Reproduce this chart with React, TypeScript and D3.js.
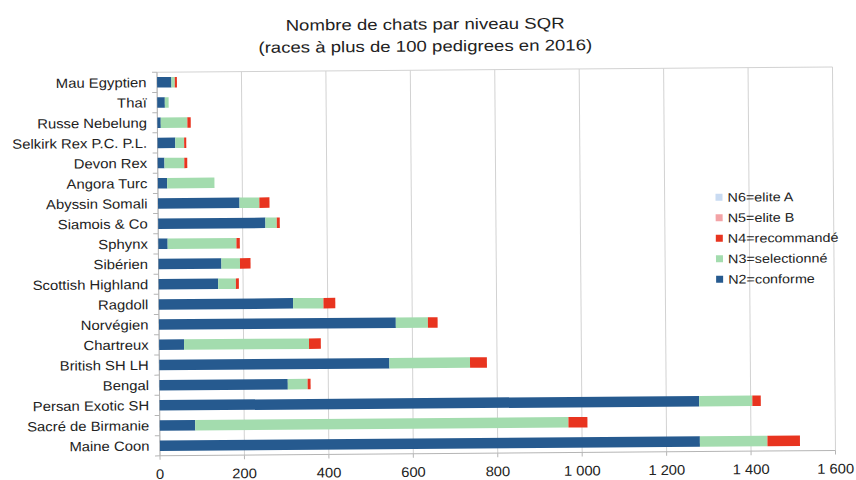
import React from "react";
import * as d3 from "d3";

const categories = [
  "Mau Egyptien", "Thaï", "Russe Nebelung", "Selkirk Rex P.C. P.L.", "Devon Rex",
  "Angora Turc", "Abyssin Somali", "Siamois & Co", "Sphynx", "Sibérien",
  "Scottish Highland", "Ragdoll", "Norvégien", "Chartreux", "British SH LH",
  "Bengal", "Persan Exotic SH", "Sacré de Birmanie", "Maine Coon",
];
const n2 = [34, 18, 8, 42, 16, 22, 193, 254, 22, 149, 141, 318, 561, 59, 545, 304, 1278, 84, 1279];
const n3 = [8, 9, 63, 21, 47, 112, 47, 27, 163, 44, 42, 72, 76, 296, 191, 47, 126, 884, 160];
const n4 = [5, 0, 8, 5, 7, 0, 24, 7, 8, 25, 7, 28, 23, 28, 40, 7, 20, 45, 77];
const n5 = [0, 0, 0, 0, 0, 0, 0, 0, 0, 0, 0, 0, 0, 0, 0, 0, 0, 0, 0];
const n6 = [0, 0, 0, 0, 0, 0, 0, 0, 0, 0, 0, 0, 0, 0, 0, 0, 0, 0, 0];
const seriesKeys = ["N2", "N3", "N4", "N5", "N6"];
const seriesNames = ["N2=conforme", "N3=selectionné", "N4=recommandé", "N5=elite B", "N6=elite A"];
const seriesColors = ["#265a8f", "#a3dcae", "#e8341f", "#f3a3a6", "#c9dbf2"];
const xTicks = [0, 200, 400, 600, 800, 1000, 1200, 1400, 1600];
const titleLines = ["Nombre de chats par niveau SQR", "(races à plus de 100 pedigrees en 2016)"];

const W = 856, H = 480;
const left = 158.5, right = 834, top = 69.6, bottom = 453.2;
const FONT = "'Liberation Sans', Arial, sans-serif";

export default function App() {
  const rows = categories.map((c, i) => ({ cat: c, N2: n2[i], N3: n3[i], N4: n4[i], N5: n5[i], N6: n6[i] }));
  const stack = d3.stack<any>().keys(seriesKeys)(rows);
  const x = d3.scaleLinear().domain([0, 1600]).range([left, right]);
  const y = d3.scaleBand<string>().domain(categories).range([top, bottom]).paddingInner(0.48).paddingOuter(0.24);
  const fmt = d3.formatLocale({ decimal: ",", thousands: " ", grouping: [3], currency: ["", "€"] }).format(",");
  const step = y.step();
  const bounds = d3.range(categories.length + 1).map((i) => top + i * ((bottom - top) / categories.length));
  const legendOrder = [4, 3, 2, 1, 0];

  return (
    <svg width={W} height={H} style={{ position: "absolute", left: 0, top: 0, background: "#fff" }} fontFamily={FONT}>
      <rect x={0} y={0} width={W} height={H} fill="#fff" />
      <g transform="rotate(-0.45 496 262)">
        {titleLines.map((t, i) => (
          <text key={i} transform={`translate(427,${29 + i * 22}) scale(1.2,1)`} textAnchor="middle" fontSize={15.5} fill="#222">{t}</text>
        ))}
        {xTicks.map((t) => (
          <line key={"g" + t} x1={x(t)} x2={x(t)} y1={top} y2={bottom} stroke="#d2d2d2" strokeWidth={1} />
        ))}
        <line x1={left} x2={right} y1={top} y2={top} stroke="#d2d2d2" />
        <line x1={left} x2={left} y1={top} y2={bottom} stroke="#b5b5b5" />
        <line x1={left} x2={right} y1={bottom} y2={bottom} stroke="#b5b5b5" />
        {bounds.map((b, i) => (
          <line key={"yt" + i} x1={left - 5} x2={left} y1={b} y2={b} stroke="#b5b5b5" />
        ))}
        {xTicks.map((t) => (
          <line key={"xt" + t} x1={x(t)} x2={x(t)} y1={bottom} y2={bottom + 4} stroke="#b5b5b5" />
        ))}
        {stack.map((s, si) => (
          <g key={s.key} fill={seriesColors[si]}>
            {s.map((d, i) => (d[1] - d[0] > 0 ? (
              <rect key={i} x={x(d[0])} y={y(categories[i])!} width={x(d[1]) - x(d[0])} height={y.bandwidth()} />
            ) : null))}
          </g>
        ))}
        {categories.map((c) => (
          <text key={c} transform={`translate(148,${y(c)! + y.bandwidth() / 2 + 4.8}) scale(1.1,1)`} textAnchor="end" fontSize={13.5} fill="#222">{c}</text>
        ))}
        {xTicks.map((t) => (
          <text key={"tl" + t} transform={`translate(${x(t)},${bottom + 23}) scale(1.05,1)`} textAnchor="middle" fontSize={14} fill="#222">{fmt(t)}</text>
        ))}
        {legendOrder.map((si, k) => (
          <g key={si} transform={`translate(716,${199 + k * 20.5})`}>
            <rect x={0} y={-3.5} width={7} height={7} fill={seriesColors[si]} />
            <text transform="translate(12,4.5) scale(1.15,1)" fontSize={12.5} fill="#222">{seriesNames[si]}</text>
          </g>
        ))}
      </g>
    </svg>
  );
}
